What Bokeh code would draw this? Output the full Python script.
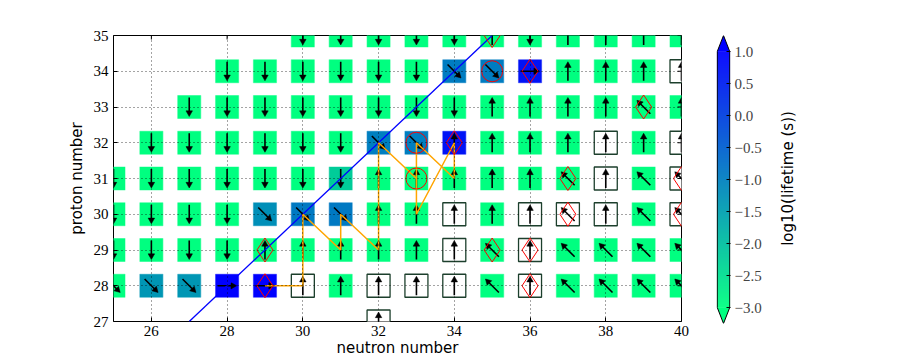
import math
import numpy as np
from bokeh.plotting import figure
from bokeh.layouts import row
from bokeh.models import (LinearColorMapper, FixedTicker, Range1d,
                          ColumnDataSource, CustomJSTickFormatter, Title)
from bokeh.embed import file_html
from bokeh.resources import INLINE

# ---------------- data ----------------
# log10(lifetime / s) per nucleus, row by row (None = stable, drawn as open square)
# decay arrow direction per nucleus: u=up, d=down, r=right, dr=down-right, ul=up-left
Z27_N = [32]
Z27_logt = [None]
Z27_dir = ["u"]

Z28_N = list(range(25, 41))
Z28_logt = [-3.0, -1.35, -1.35, 1.2, 1.2, None, -3.0, None, None, None, -3.0, None, -3.0, -3.0, -3.0, -3.0]
Z28_dir = ["dr", "dr", "dr", "r", "r", "u", "u", "u", "u", "u", "ul", "u", "ul", "ul", "ul", "ul"]

Z29_N = list(range(25, 41))
Z29_logt = [-3.0, -3.0, -3.0, -3.0, -3.0, -3.0, -3.0, -3.0, -3.0, None, -3.0, None, -3.0, -3.0, -3.0, -3.0]
Z29_dir = ["d", "d", "d", "d", "u", "u", "u", "u", "u", "u", "ul", "u", "ul", "ul", "ul", "ul"]

Z30_N = list(range(25, 41))
Z30_logt = [-3.0, -3.0, -3.0, -3.0, -1.25, -0.9, -0.9, -3.0, -3.0, None, -3.0, None, None, None, -3.0, None]
Z30_dir = ["d", "d", "d", "d", "dr", "dr", "dr", "u", "u", "u", "u", "u", "ul", "u", "ul", "ul"]

Z31_N = list(range(25, 41))
Z31_logt = [-3.0, -3.0, -3.0, -3.0, -3.0, -3.0, -2.2, -3.0, -3.0, -3.0, -3.0, -3.0, -3.0, None, -3.0, None]
Z31_dir = ["d", "d", "d", "d", "d", "d", "d", "u", "u", "u", "u", "u", "ul", "u", "ul", "ul"]

Z32_N = list(range(26, 41))
Z32_logt = [-3.0, -3.0, -3.0, -3.0, -3.0, -3.0, -1.0, -1.0, 0.7, -3.0, -3.0, -3.0, None, -3.0, None]
Z32_dir = ["d", "d", "d", "d", "d", "d", "dr", "dr", "u", "u", "u", "u", "u", "u", "u"]

Z33_N = list(range(27, 41))
Z33_logt = [-3.0] * 14
Z33_dir = ["d"] * 8 + ["u", "u", "u", "u", "ul", "u"]

Z34_N = list(range(28, 41))
Z34_logt = [-3.0] * 6 + [-0.95, -0.95, 0.7, -3.0, -3.0, -3.0, None]
Z34_dir = ["d"] * 6 + ["dr", "dr", "r", "u", "u", "u", "u"]

Z35_N = list(range(30, 41))
Z35_logt = [-3.0] * 11
Z35_dir = ["d"] * 5 + ["u", "d", "u", "u", "u", "u"]

rows_Z = [27, 28, 29, 30, 31, 32, 33, 34, 35]
rows_N = [Z27_N, Z28_N, Z29_N, Z30_N, Z31_N, Z32_N, Z33_N, Z34_N, Z35_N]
rows_logt = [Z27_logt, Z28_logt, Z29_logt, Z30_logt, Z31_logt, Z32_logt, Z33_logt, Z34_logt, Z35_logt]
rows_dir = [Z27_dir, Z28_dir, Z29_dir, Z30_dir, Z31_dir, Z32_dir, Z33_dir, Z34_dir, Z35_dir]

# red diamonds and red circles
diamond_N = [29, 29, 34, 36, 35, 39, 37, 37, 35, 36, 36, 40, 40]
diamond_Z = [28, 29, 32, 34, 35, 33, 31, 30, 29, 29, 28, 31, 30]
circle_N = [33, 33, 35]
circle_Z = [31, 32, 34]

# N = Z line
nz_N = [27, 35]
nz_Z = [27, 35]

# orange path
path_N = [29, 30, 30, 31, 31, 32, 32, 33, 33, 34, 34, 33, 33]
path_Z = [28, 28, 30, 29, 30, 29, 32, 31, 32, 31, 32, 30, 31]

x_ticks = [26, 28, 30, 32, 34, 36, 38, 40]
y_ticks = [27, 28, 29, 30, 31, 32, 33, 34, 35]
cb_ticks = [-3.0, -2.5, -2.0, -1.5, -1.0, -0.5, 0.0, 0.5, 1.0]
cb_low, cb_high = -3.0, 1.0
cb_title = "log10(lifetime (s))"

# ---------------- styling ----------------
def winter(v):
    # matplotlib "winter": green 1 -> 0, blue 0.5 -> 1
    return "#%02x%02x%02x" % (0, int(round(255 * (1 - v))), int(round(255 * (0.5 + 0.5 * v))))

palette = [winter(i / 255) for i in range(256)]
mapper = LinearColorMapper(palette=palette, low=cb_low, high=cb_high,
                           low_color=palette[0], high_color=palette[-1])

SERIF = "Liberation Serif, DejaVu Serif, serif"
SANS = "DejaVu Sans"

FW, FH = 568, 286
XR = (25, 40)
YR = (27, 35)
pxN = (XR[1] - XR[0]) / FW
pxZ = (YR[1] - YR[0]) / FH
TICK = 4  # px

# collect cells
cN, cZ, cL = [], [], []
sN, sZ = [], []
aN, aZ, aD = [], [], []
for Z, Ns, Ls, Ds in zip(rows_Z, rows_N, rows_logt, rows_dir):
    for N, L, D in zip(Ns, Ls, Ds):
        if L is None:
            sN.append(N); sZ.append(Z)
        else:
            cN.append(N); cZ.append(Z); cL.append(L)
        aN.append(N); aZ.append(Z); aD.append(D)

s2 = math.sqrt(0.5)
dirvec = {"u": (0, 1), "d": (0, -1), "r": (1, 0), "dr": (s2, -s2), "ul": (-s2, s2)}
ALEN = 19.0   # arrow length px
HEAD = 6.5    # head marker size px
hh = HEAD * math.sqrt(3) / 2
x0, y0, x1, y1, hx, hy, ha = [], [], [], [], [], [], []
for N, Z, D in zip(aN, aZ, aD):
    ux, uy = dirvec[D]
    tipx = N + ux * ALEN / 2 * pxN
    tipy = Z + uy * ALEN / 2 * pxZ
    x0.append(N - ux * ALEN / 2 * pxN)
    y0.append(Z - uy * ALEN / 2 * pxZ)
    x1.append(tipx - ux * (hh * 0.8) * pxN)
    y1.append(tipy - uy * (hh * 0.8) * pxZ)
    hx.append(tipx - ux * (2 * hh / 3) * pxN)
    hy.append(tipy - uy * (2 * hh / 3) * pxZ)
    ha.append(math.atan2(uy, ux) - math.pi / 2)

# ---------------- main figure ----------------
p = figure(x_range=Range1d(*XR), y_range=Range1d(*YR),
           frame_width=FW, frame_height=FH,
           min_border_left=113, min_border_right=30, min_border_top=35, min_border_bottom=36,
           output_backend="svg", toolbar_location=None,
           background_fill_color="white", border_fill_color="white")
p.outline_line_color = "black"
p.outline_line_width = 1

p.xaxis.ticker = FixedTicker(ticks=x_ticks)
p.yaxis.ticker = FixedTicker(ticks=y_ticks)
p.xaxis.axis_label = "neutron number"
p.yaxis.axis_label = "proton number"
for ax in (p.xaxis[0], p.yaxis[0]):
    ax.axis_line_color = None
    ax.major_tick_in = TICK
    ax.major_tick_out = 0
    ax.minor_tick_in = 0
    ax.minor_tick_out = 0
    ax.major_tick_line_color = "black"
    ax.major_label_text_font = SERIF
    ax.major_label_text_font_size = "15px"
    ax.major_label_text_color = "black"
    ax.axis_label_text_font = SANS
    ax.axis_label_text_font_size = "15px"
    ax.axis_label_text_font_style = "normal"
    ax.axis_label_text_color = "black"
p.xaxis.major_label_standoff = 4
p.xaxis.axis_label_standoff = 0
p.yaxis.major_label_standoff = 5
p.yaxis.axis_label_standoff = 5

for g, tk in ((p.xgrid[0], x_ticks), (p.ygrid[0], y_ticks)):
    g.ticker = FixedTicker(ticks=tk)
    g.grid_line_color = "black"
    g.grid_line_dash = "1 3"
    g.grid_line_width = 0.9
    g.grid_line_alpha = 0.8
    g.level = "overlay"

# colored squares
p.scatter(x="x", y="y", marker="square", size=23,
          fill_color={"field": "logt", "transform": mapper},
          line_color={"field": "logt", "transform": mapper}, line_alpha=0.45, line_width=1.2,
          source=ColumnDataSource(dict(x=cN, y=cZ, logt=cL)))
# stable (open) squares
p.scatter(x=sN, y=sZ, marker="square", size=23, fill_color="white",
          line_color="#1c3f2c", line_width=1.3)
# arrows
p.segment(x0=x0, y0=y0, x1=x1, y1=y1, line_color="black", line_width=1.6)
p.scatter(x=hx, y=hy, angle=ha, marker="triangle", size=HEAD,
          fill_color="black", line_color="black", line_width=0.5)
# N=Z line
p.line(nz_N, nz_Z, line_color="#0000ff", line_width=1.3)
# orange path
p.line(path_N, path_Z, line_color="#ffa500", line_width=1.5)
# red markers
p.scatter(x=diamond_N, y=diamond_Z, marker="diamond", size=24, fill_color=None,
          line_color="red", line_width=1)
p.scatter(x=circle_N, y=circle_Z, marker="circle", size=21, fill_color=None,
          line_color="red", line_width=1)

# inward tick marks on the top and right edges (mirroring bottom/left)
p.segment(x0=x_ticks, y0=[YR[1]] * len(x_ticks), x1=x_ticks,
          y1=[YR[1] - TICK * pxZ] * len(x_ticks), line_color="black", line_width=1)
p.segment(x0=[XR[1]] * len(y_ticks), y0=y_ticks, x1=[XR[1] - TICK * pxN] * len(y_ticks),
          y1=y_ticks, line_color="black", line_width=1)

# ---------------- colorbar ----------------
CBX = (-0.06, 1.06)
CBY = (cb_low - 0.25, cb_high + 0.25)
cb = figure(x_range=Range1d(*CBX), y_range=Range1d(*CBY),
            frame_width=14, frame_height=288,
            min_border_left=5, min_border_right=40, min_border_top=35, min_border_bottom=34,
            y_axis_location="right", output_backend="svg", toolbar_location=None,
            background_fill_color="white", border_fill_color="white")
cb.outline_line_color = None
cb.xaxis.visible = False
cb.grid.visible = False
levels = np.linspace(cb_low, cb_high, len(palette) + 1)
cb.quad(left=0, right=1, bottom=levels[:-1], top=levels[1:], fill_color=palette,
        line_color=palette, line_width=0.5)
cb.patch([0, 0.5, 1], [cb_high, cb_high + 0.25, cb_high], fill_color=palette[-1], line_color=None)
cb.patch([0, 0.5, 1], [cb_low, cb_low - 0.25, cb_low], fill_color=palette[0], line_color=None)
cb.line([0, 0, 0.5, 1, 1, 0.5, 0], [cb_low, cb_high, cb_high + 0.25, cb_high, cb_low, cb_low - 0.25, cb_low],
        line_color="black", line_width=1)
ya = cb.yaxis[0]
ya.ticker = FixedTicker(ticks=cb_ticks)
ya.formatter = CustomJSTickFormatter(code="return tick.toFixed(1).replace('-', '\u2212')")
ya.axis_line_color = None
ya.major_tick_in = 4
ya.major_tick_out = 0
ya.minor_tick_in = 0
ya.minor_tick_out = 0
ya.major_label_standoff = 4
ya.major_label_text_font = SERIF
ya.major_label_text_font_size = "15px"

# colorbar title (reads bottom-to-top) in a narrow companion panel
lab = figure(x_range=Range1d(0, 1), y_range=Range1d(0, 1),
             frame_width=6, frame_height=FH,
             min_border_left=26, min_border_right=0, min_border_top=35, min_border_bottom=36,
             output_backend="svg", toolbar_location=None,
             background_fill_color="white", border_fill_color="white")
lab.axis.visible = False
lab.grid.visible = False
lab.outline_line_color = None
lab.add_layout(Title(text=cb_title, align="center", standoff=0, offset=-5,
                     text_font=SANS, text_font_size="15px", text_font_style="normal",
                     text_color="black"), "left")

layout = row(p, cb, lab)
open("out.html", "w").write(file_html(layout, INLINE))
